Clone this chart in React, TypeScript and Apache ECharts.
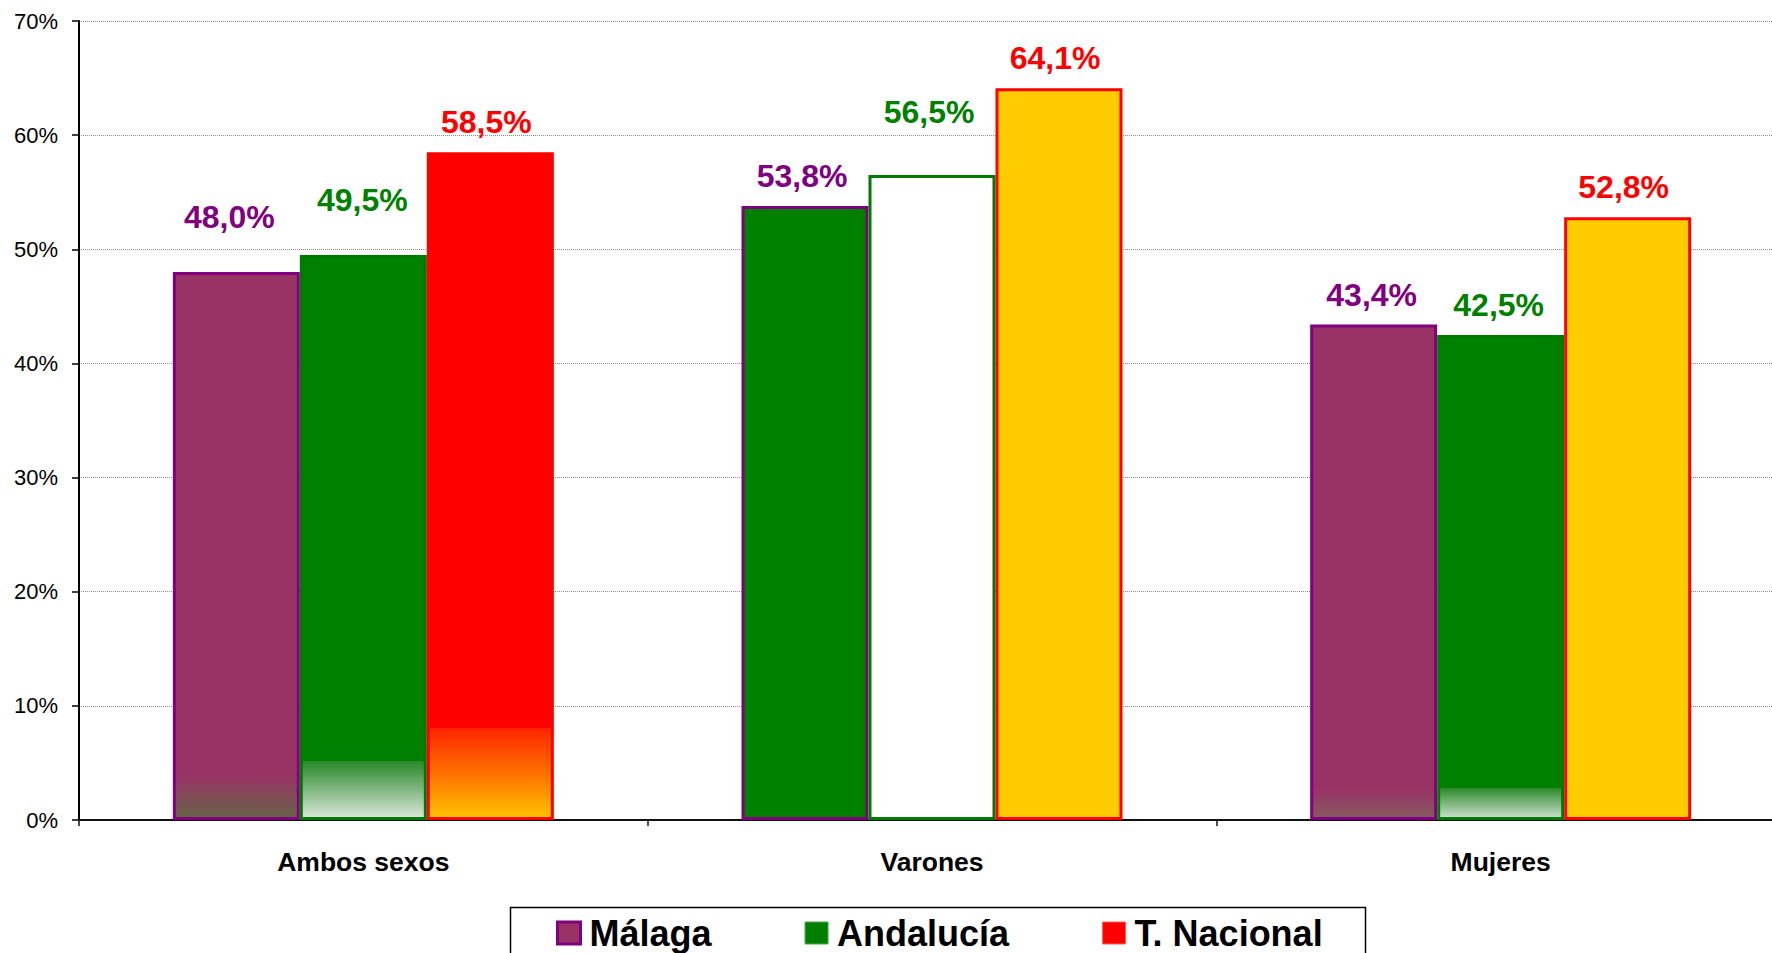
import React, { useEffect, useRef } from "react";
import * as echarts from "echarts";

// ---- Data ----
const categories = ["Ambos sexos", "Varones", "Mujeres"];
const seriesNames = ["Málaga", "Andalucía", "T. Nacional"];
const malaga = [48.0, 53.8, 43.4];
const andalucia = [49.5, 56.5, 42.5];
const nacional = [58.5, 64.1, 52.8];
const yMax = 70;
const yStep = 10;

// ---- Styles ----
const FONT = "'Liberation Sans', Arial, Helvetica, sans-serif";
const labelColors = ["#800080", "#008000", "#FF0000"];
const borderColors = ["#800080", "#007a00", "#FF0000"];
const legendColors = ["#993366", "#008000", "#FF0000"];

const grad = (stops: [number, string][]) =>
  new echarts.graphic.LinearGradient(
    0,
    0,
    0,
    1,
    stops.map(([offset, color]) => ({ offset, color }))
  );

// bottom "overlay" heights in % units
const fillFns: ((v: number) => any)[][] = [
  // Málaga
  [
    (v) => grad([[0, "#993366"], [1 - 3.8 / v, "#993366"], [1, "#666446"]]),
    () => "#008000",
    (v) => grad([[0, "#993366"], [1 - 2.6 / v, "#993366"], [1, "#855a5e"]]),
  ],
  // Andalucía
  [
    (v) =>
      grad([
        [0, "#008000"],
        [1 - 5.1 / v, "#008000"],
        [1 - 5.1 / v, "#278727"],
        [1, "#dce7dc"],
      ]),
    () => "#ffffff",
    (v) =>
      grad([
        [0, "#008000"],
        [1 - 2.7 / v, "#008000"],
        [1 - 2.7 / v, "#2a8a2a"],
        [1, "#cfe0cf"],
      ]),
  ],
  // T. Nacional
  [
    (v) =>
      grad([
        [0, "#FF0000"],
        [1 - 8 / v, "#FF0000"],
        [1 - 8 / v, "#ff2400"],
        [1 - 4 / v, "#ff7000"],
        [1, "#ffc400"],
      ]),
    () => "#FFCC00",
    () => "#FFCC00",
  ],
];

// extra label offsets [dx, dy] (manual positions in the original)
const labelOffsets: [number, number][][] = [
  [[-7, -25], [-3, 0], [-2, 0]],
  [[-1, -25], [-3, -33], [-2, 0]],
  [[-4, 0], [-4, 0], [-4, 0]],
];

const fmt = (v: number) => v.toFixed(1).replace(".", ",") + "%";

export default function App() {
  const ref = useRef<HTMLDivElement>(null);

  useEffect(() => {
    if (!ref.current) return;
    const chart = echarts.init(ref.current, undefined, { renderer: "svg" });
    const allValues = [malaga, andalucia, nacional];

    const series = allValues.map((vals, si) => ({
      name: seriesNames[si],
      type: "bar",
      barWidth: 127,
      barGap: "0%",
      itemStyle: {
        color: legendColors[si],
        borderColor: borderColors[si],
        borderWidth: 3,
      },
      label: {
        show: true,
        position: "top",
        distance: 14,
        color: labelColors[si],
        fontFamily: FONT,
        fontWeight: "bold",
        fontSize: 32,
        lineHeight: 32,
        formatter: (p: any) => fmt(p.value),
      },
      data: vals.map((v, ci) => ({
        value: v,
        itemStyle: { color: fillFns[si][ci](v) },
        label: { offset: labelOffsets[si][ci] },
      })),
    }));

    chart.setOption({
      animation: false,
      backgroundColor: "#ffffff",
      grid: { left: 79, top: 21, width: 1706, height: 799, containLabel: false },
      legend: {
        left: 556,
        top: 915,
        padding: 0,
        itemWidth: 23,
        itemHeight: 22,
        itemGap: 93,
        icon: "rect",
        textStyle: {
          fontFamily: FONT,
          fontWeight: "bold",
          fontSize: 36,
          color: "#000",
          padding: [0, 0, 0, 4],
        },
        data: [
          {
            name: "Málaga",
            itemStyle: { color: "#993366", borderColor: "#800080", borderWidth: 3 },
          },
          {
            name: "Andalucía",
            itemStyle: { color: "#008000", borderColor: "#4aa84a", borderWidth: 1 },
          },
          {
            name: "T. Nacional",
            itemStyle: { color: "#FF0000", borderColor: "#ff6060", borderWidth: 1 },
          },
        ],
      },
      graphic: [
        {
          type: "rect",
          left: 508,
          top: 905,
          shape: { width: 855, height: 80 },
          style: { fill: "none", stroke: "#000", lineWidth: 1.5 },
          silent: true,
        },
      ],
      xAxis: {
        type: "category",
        data: categories,
        axisLine: { show: true, lineStyle: { color: "#111", width: 2 } },
        axisTick: { show: true, length: 6, lineStyle: { color: "#111", width: 1.5 } },
        axisLabel: {
          margin: 28,
          fontFamily: FONT,
          fontWeight: "bold",
          fontSize: 26.5,
          color: "#000",
        },
      },
      yAxis: {
        type: "value",
        min: 0,
        max: yMax,
        interval: yStep,
        axisLine: { show: true, lineStyle: { color: "#000", width: 2 } },
        axisTick: { show: true, length: 7, lineStyle: { color: "#000", width: 1.5 } },
        axisLabel: {
          margin: 21,
          fontFamily: FONT,
          fontSize: 22,
          color: "#000",
          formatter: "{value}%",
        },
        splitLine: {
          show: true,
          lineStyle: { color: "#8a8a8a", type: "dotted", width: 1 },
        },
      },
      series,
    } as any);

    return () => chart.dispose();
  }, []);

  return (
    <div
      style={{
        position: "fixed",
        left: 0,
        top: 0,
        width: 1772,
        height: 953,
        overflow: "hidden",
        background: "#fff",
      }}
    >
      <div ref={ref} style={{ width: 1800, height: 953 }} />
    </div>
  );
}
